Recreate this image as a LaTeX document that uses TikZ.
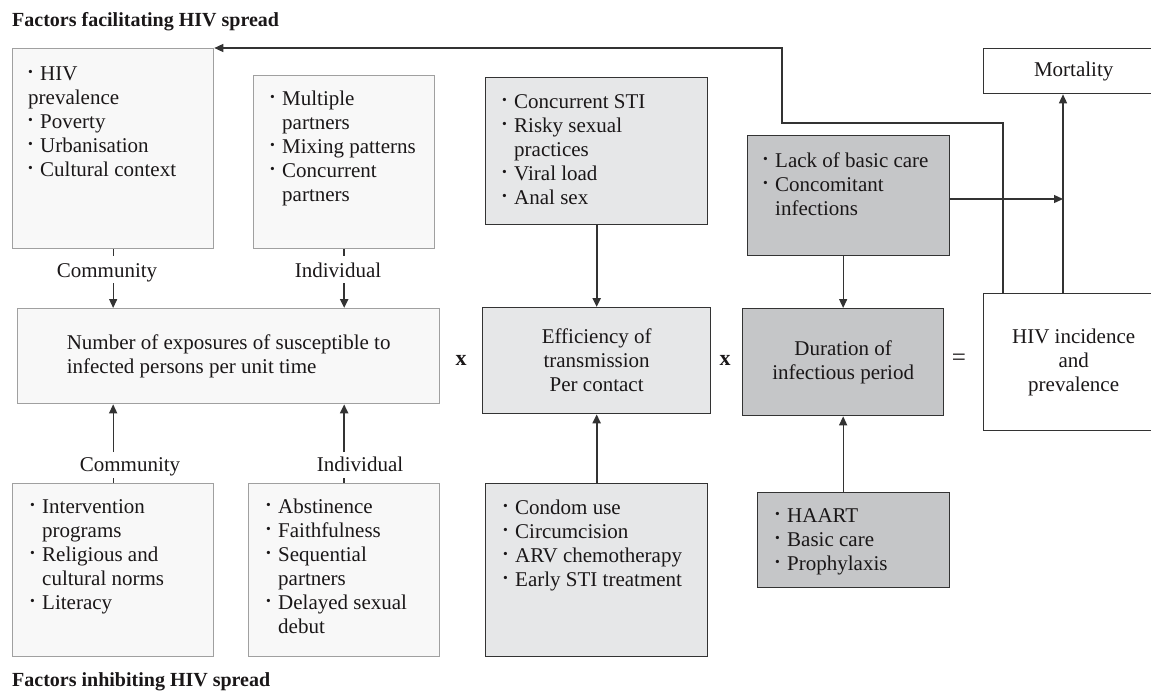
\documentclass[tikz,border=0pt]{standalone}
\usepackage{fontspec}
\setmainfont{Liberation Serif}
\usetikzlibrary{arrows.meta,calc}
\definecolor{lightfill}{HTML}{F8F8F8}
\definecolor{lightdraw}{HTML}{A0A0A0}
\definecolor{midfill}{HTML}{E6E7E8}
\definecolor{darkfill}{HTML}{C5C6C8}
\definecolor{ink}{HTML}{333333}
\definecolor{txt}{HTML}{1A1718}
\newcommand{\bu}{\makebox[12pt][l]{\raisebox{0.16em}{\scalebox{0.65}{\textbullet}}}}
\newcommand{\ind}{\makebox[12pt]{}}
\begin{document}
\begin{tikzpicture}[x=1pt,y=-1pt,
  every node/.style={font=\fontsize{21}{24}\selectfont, text=txt},
  box/.style={draw, rectangle, inner sep=0pt, anchor=north west, line width=1.3pt},
  lightbox/.style={box, fill=lightfill, draw=lightdraw},
  midbox/.style={box, fill=midfill, draw=ink},
  darkbox/.style={box, fill=darkfill, draw=ink},
  whitebox/.style={box, fill=white, draw=ink},
  list/.style={anchor=base west, inner sep=0pt, align=left},
  lbl/.style={inner sep=0pt, anchor=base},
  ttl/.style={anchor=base west, inner sep=0pt, font=\bfseries\fontsize{20}{24}\selectfont},
  sign/.style={inner sep=0pt, font=\bfseries\fontsize{22}{24}\selectfont},
  arr/.style={draw=ink, line width=1.3pt, -{Triangle[length=9pt,width=8pt]}},
  arrthick/.style={arr, line width=2.2pt},
  ln/.style={draw=ink, line width=1.3pt},
  lnthick/.style={ln, line width=2.2pt}
]
\useasboundingbox (0,0) rectangle (1151,691);

% titles
\node[ttl] (t1) at (12,26) {Factors facilitating HIV spread};
\node[ttl] (t2) at (12,686) {Factors inhibiting HIV spread};

% boxes
\node[lightbox, minimum width=201pt, minimum height=200pt] (A) at (12,48) {};
\node[lightbox, minimum width=181pt, minimum height=173pt] (B) at (253,75) {};
\node[lightbox, minimum width=422pt, minimum height=95pt, align=left] (C) at (17,308)
  {Number of exposures of susceptible to\\infected persons per unit time};
\node[midbox, minimum width=222pt, minimum height=147pt] (E) at (485,77) {};
\node[midbox, minimum width=228pt, minimum height=106pt, align=center] (D) at (482,307)
  {Efficiency of\\transmission\\Per contact};
\node[darkbox, minimum width=202pt, minimum height=120pt] (F) at (747,135) {};
\node[darkbox, minimum width=201pt, minimum height=107pt, align=center] (G) at (742,308)
  {Duration of\\infectious period};
\node[whitebox, minimum width=180pt, minimum height=137pt, align=center] (H) at (983,293)
  {HIV incidence\\and\\prevalence};
\node[whitebox, minimum width=180pt, minimum height=45pt] (M) at (983,48) {Mortality};
\node[lightbox, minimum width=201pt, minimum height=173pt] (I) at (12,483) {};
\node[lightbox, minimum width=191pt, minimum height=173pt] (J) at (248,483) {};
\node[midbox, minimum width=222pt, minimum height=173pt] (K) at (485,483) {};
\node[darkbox, minimum width=192pt, minimum height=95pt] (L) at (757,492) {};

% list texts (anchored at the baseline of the last line)
\node[list] (At) at (28,176) {\bu HIV\\prevalence\\\bu Poverty\\\bu Urbanisation\\\bu Cultural context};
\node[list] (Bt) at (270,201) {\bu Multiple\\\ind partners\\\bu Mixing patterns\\\bu Concurrent\\\ind partners};
\node[list] (Et) at (502,204) {\bu Concurrent STI\\\bu Risky sexual\\\ind practices\\\bu Viral load\\\bu Anal sex};
\node[list] (Ft) at (763,215) {\bu Lack of basic care\\\bu Concomitant\\\ind infections};
\node[list] (It) at (30,609) {\bu Intervention\\\ind programs\\\bu Religious and\\\ind cultural norms\\\bu Literacy};
\node[list] (Jt) at (266,633) {\bu Abstinence\\\bu Faithfulness\\\bu Sequential\\\ind partners\\\bu Delayed sexual\\\ind debut};
\node[list] (Kt) at (503,586) {\bu Condom use\\\bu Circumcision\\\bu ARV chemotherapy\\\bu Early STI treatment};
\node[list] (Lt) at (775,570) {\bu HAART\\\bu Basic care\\\bu Prophylaxis};

% labels
\node[lbl] (ctop) at (107,277) {Community};
\node[lbl] (itop) at (338,277) {Individual};
\node[lbl] (cbot) at (130,471) {Community};
\node[lbl] (ibot) at (360,471) {Individual};

% operators
\node[sign] (x1) at (461,360) {x};
\node[sign] (x2) at (725,360) {x};
\node[inner sep=0pt, font=\fontsize{25}{28}\selectfont] (eq) at (959,360) {=};

% connectors
\draw[ln] (A.south) -- ++(0,7);
\draw[arr] ($(A.south)+(0,34)$) -- (A.south |- C.north);
\draw[lnthick] (B.south) -- ++(0,7);
\draw[arrthick] ($(B.south)+(0,34)$) -- (B.south |- C.north);
\draw[ln] (I.north) -- ++(0,-5);
\draw[arr] ($(I.north)+(0,-31)$) -- (I.north |- C.south);
\draw[lnthick] (J.north) -- ++(0,-5);
\draw[arrthick] ($(J.north)+(0,-31)$) -- (J.north |- C.south);
\draw[arrthick] (E.south) -- (D.north);
\draw[arrthick] (K.north) -- (D.south);
\draw[arr] (G.north |- F.south) -- (G.north);
\draw[arr] (G.south |- L.north) -- (G.south);
\coordinate (hm) at (1063,0);
\draw[arr] (hm |- H.north) -- (hm |- M.south);
\coordinate (fe) at (949,199);
\draw[arr] (F.east |- fe) -- (hm |- fe);
\coordinate (fb) at (1003,123);
\coordinate (fc) at (782,123);
\coordinate (fd) at (782,48);
\draw[arr] (fb |- H.north) -- (fb) -- (fc) -- (fd) -- (A.north east);
\end{tikzpicture}
\end{document}
